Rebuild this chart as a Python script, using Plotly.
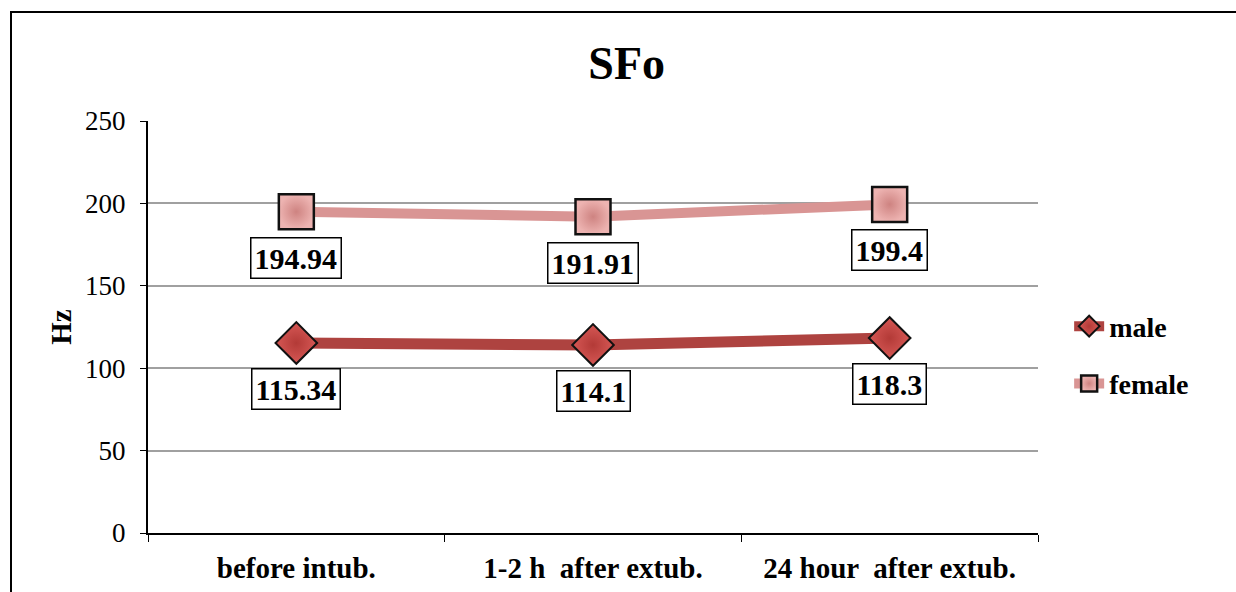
import plotly.graph_objects as go

categories = ["before intub.", "1-2 h  after extub.", "24 hour  after extub."]
male = [115.34, 114.1, 118.3]
female = [194.94, 191.91, 199.4]
male_labels = ["115.34", "114.1", "118.3"]
female_labels = ["194.94", "191.91", "199.4"]
y_ticks = [0, 50, 100, 150, 200, 250]

FONT = "Liberation Serif"

fig = go.Figure()
fig.add_trace(go.Scatter(
    x=categories, y=male, name="<b>male</b>", mode="lines+markers", legendgroup="m",
    line=dict(color="#AE4340", width=11),
    marker=dict(symbol="diamond", size=32, color="#D65855",
                line=dict(color="#111111", width=2),
                gradient=dict(type="radial", color="#B33A37")),
))
fig.add_trace(go.Scatter(
    x=categories, y=female, name="<b>female</b>", mode="lines+markers", legendgroup="f",
    line=dict(color="#D99594", width=10),
    marker=dict(symbol="square", size=35, color="#EDB3B1",
                line=dict(color="#111111", width=2.5),
                gradient=dict(type="radial", color="#CE8381")),
))

annotations = []
for c, v, t in zip(categories, male, male_labels):
    annotations.append(dict(x=c, y=v, text="<b>%s</b>" % t, showarrow=False,
                            yshift=-46, bordercolor="black", borderwidth=1.5,
                            borderpad=3, bgcolor="white",
                            font=dict(family=FONT, size=30, color="black")))
for c, v, t in zip(categories, female, female_labels):
    annotations.append(dict(x=c, y=v, text="<b>%s</b>" % t, showarrow=False,
                            yshift=-46, bordercolor="black", borderwidth=1.5,
                            borderpad=3, bgcolor="white",
                            font=dict(family=FONT, size=30, color="black")))

fig.update_layout(
    width=1236, height=592,
    margin=dict(l=148, r=198, t=121, b=59, autoexpand=False),
    paper_bgcolor="white", plot_bgcolor="white",
    font=dict(family=FONT, color="black"),
    title=dict(text="<b>SFo</b>", x=0.507, xanchor="center", y=0.893, yanchor="middle",
               font=dict(family=FONT, size=46, color="black")),
    xaxis=dict(type="category", range=[-0.5, 2.5], showline=True, linecolor="black",
               linewidth=2, ticks="outside", tickson="boundaries", ticklen=7,
               tickcolor="black", showgrid=False, ticklabelstandoff=8, automargin=False,
               tickfont=dict(family=FONT, size=29, color="black"),
               tickprefix="<b>", ticksuffix="</b>"),
    yaxis=dict(range=[0, 250], tickvals=y_ticks, showline=True, linecolor="black",
               linewidth=2, ticks="outside", ticklen=6, tickcolor="black",
               showgrid=True, gridcolor="#A0A0A0", gridwidth=1.5, zeroline=False,
               ticklabelstandoff=9, automargin=False,
               tickfont=dict(family=FONT, size=27, color="black"),
               title=dict(text="<b>Hz</b>", standoff=5,
                          font=dict(family=FONT, size=29, color="black"))),
    legend=dict(x=1.035, y=0.562, xanchor="left", yanchor="top",
                font=dict(family=FONT, size=28, color="black"),
                tracegroupgap=18, itemsizing="trace", bgcolor="rgba(0,0,0,0)"),
    annotations=annotations,
    shapes=[dict(type="rect", xref="paper", yref="paper",
                 x0=(11 - 148) / 890, x1=(1250 - 148) / 890,
                 y0=(533 - 620) / 412, y1=(533 - 12) / 412,
                 line=dict(color="black", width=2), layer="below")],
)

fig.write_html("out.html", config={"displayModeBar": False},
               post_script="document.body.style.margin='0';")
